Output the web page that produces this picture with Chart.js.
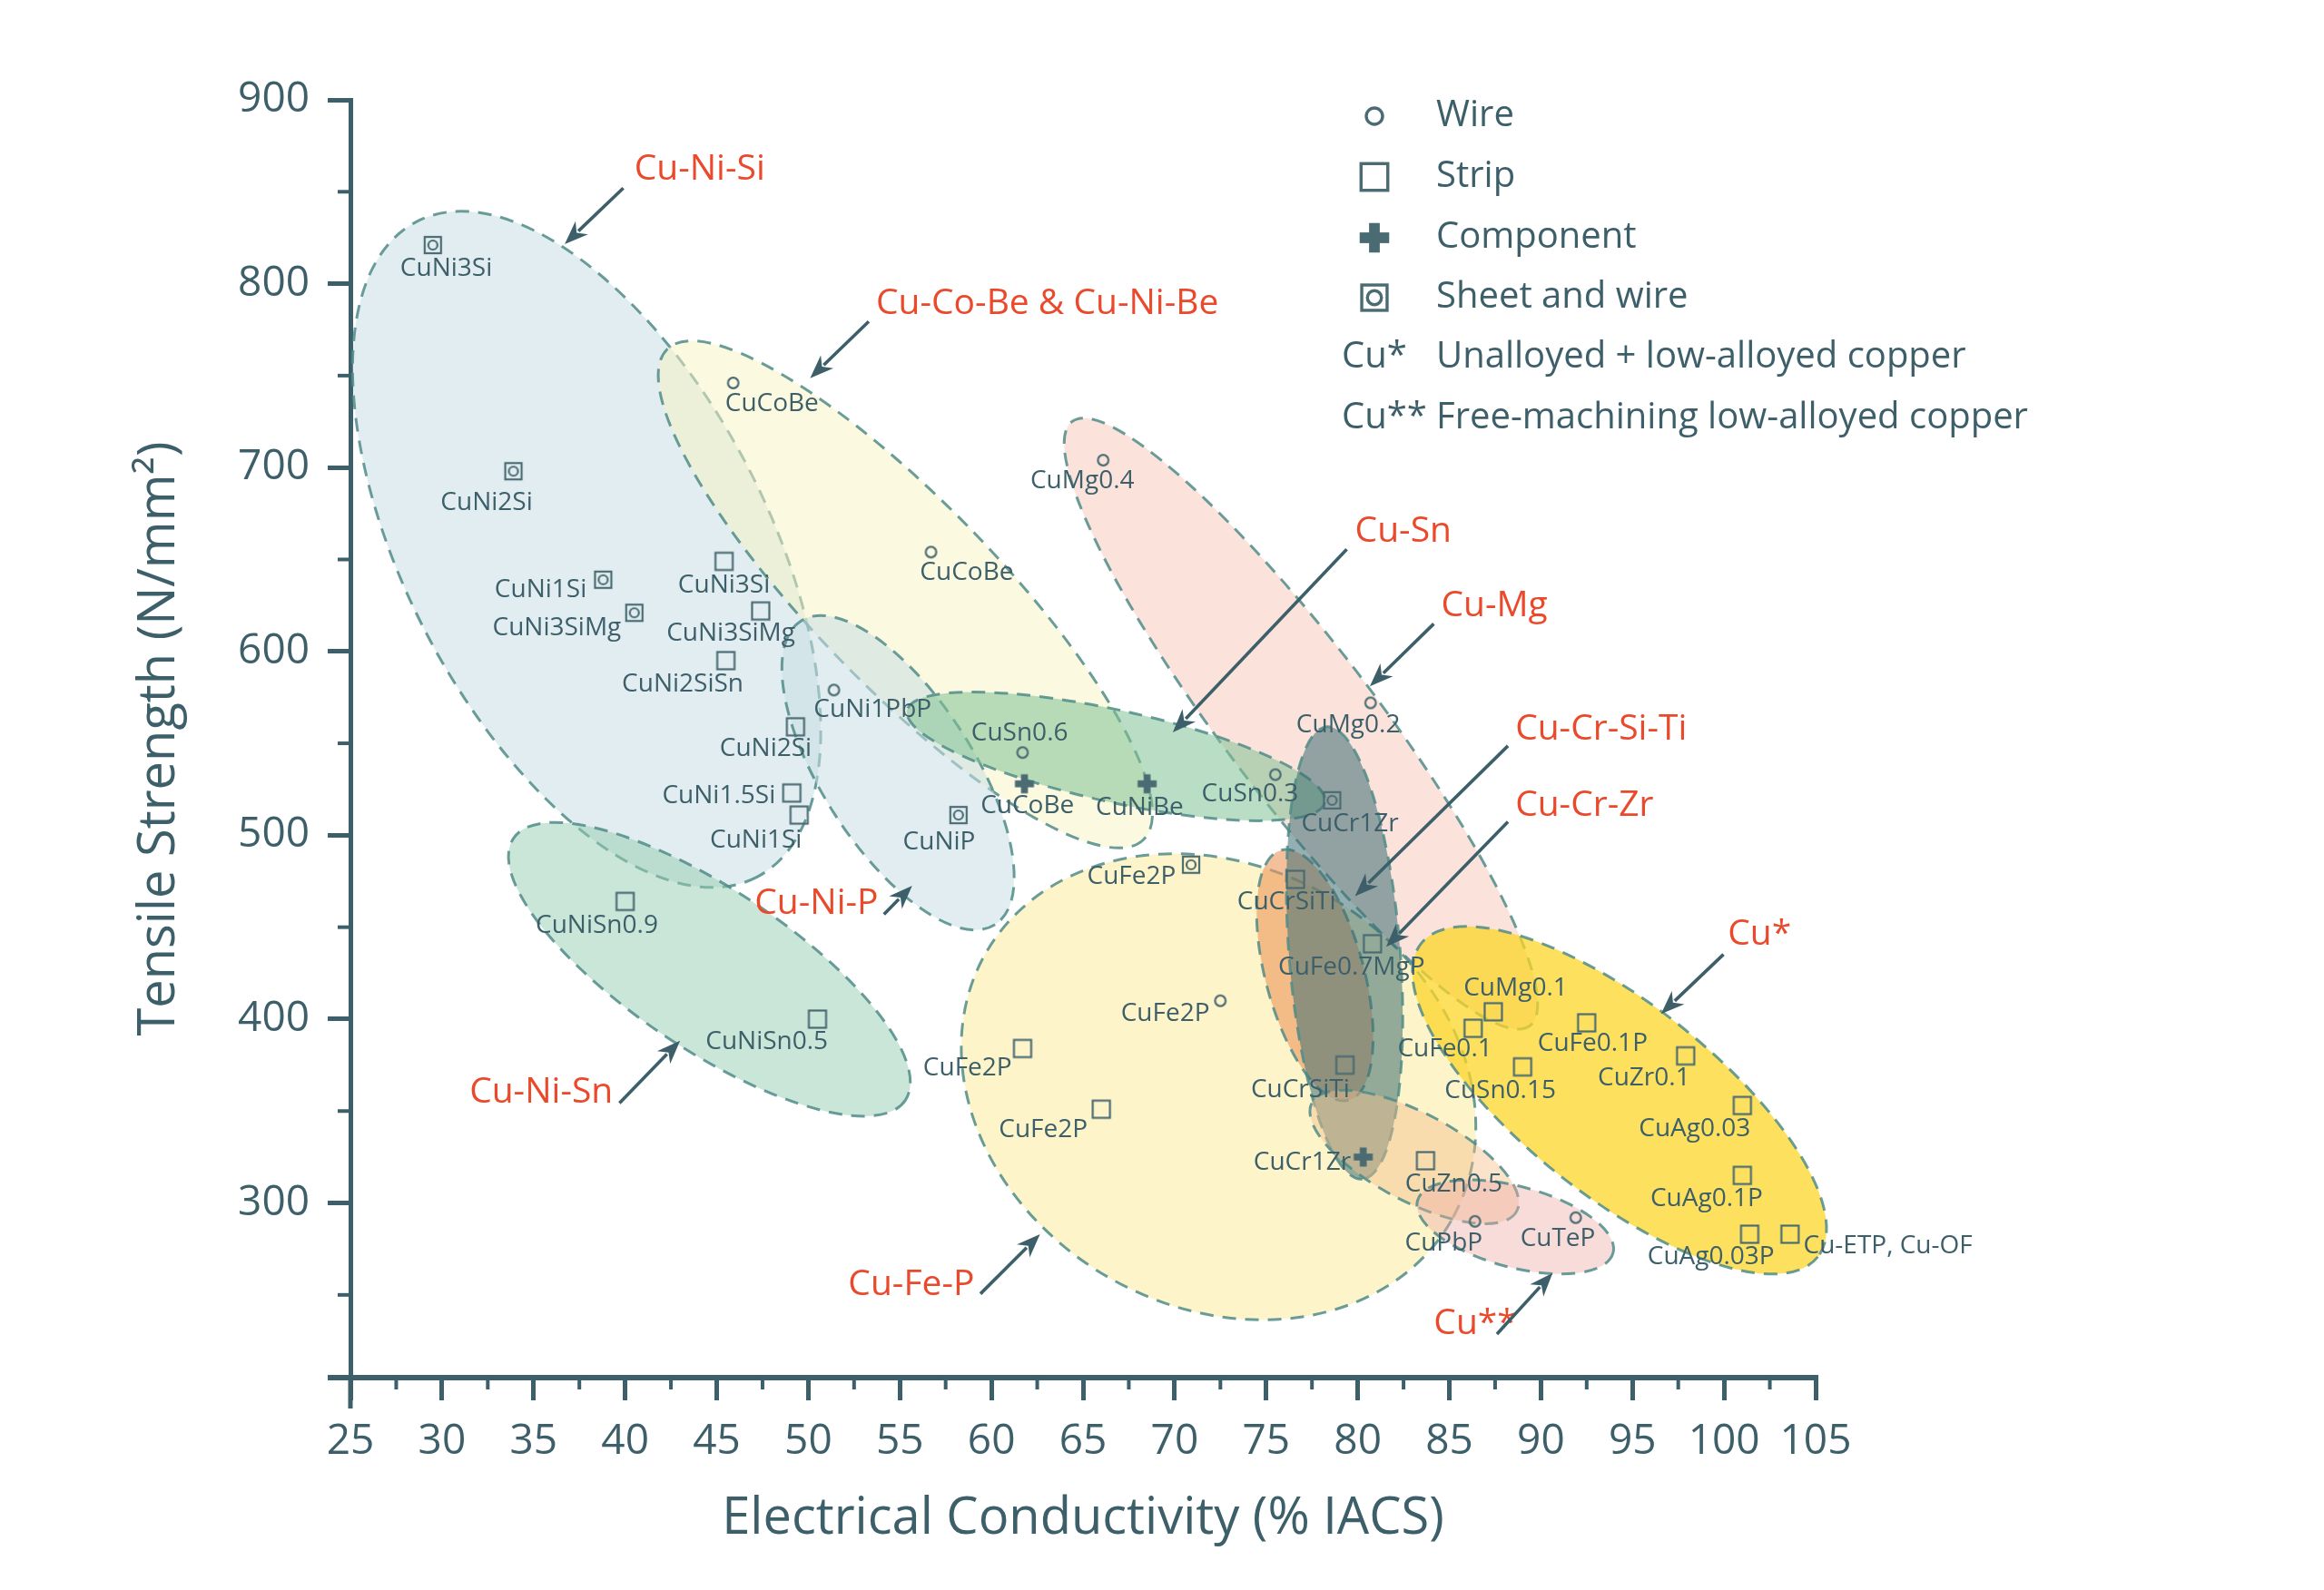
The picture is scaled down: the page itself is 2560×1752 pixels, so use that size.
<!DOCTYPE html>
<html>
<head>
<meta charset="utf-8">
<script src="https://cdn.jsdelivr.net/npm/chart.js@4.4.1/dist/chart.umd.min.js"></script>
<style>
  html, body { margin: 0; padding: 0; background: #fff; }
  canvas { display: block; }
</style>
</head>
<body>
<canvas id="chart" width="2560" height="1752"></canvas>
<script>
// alloy grades
const alloys = ["CuNi3Si", "CuCoBe", "CuNi2Si", "CuMg0.4", "CuCoBe", "CuNi3Si", "CuNi1Si", "CuNi3SiMg",
  "CuNi3SiMg", "CuNi2SiSn", "CuNi1PbP", "CuNi2Si", "CuSn0.6", "CuCoBe", "CuNiBe", "CuSn0.3", "CuCr1Zr",
  "CuNi1.5Si", "CuNi1Si", "CuNiP", "CuFe2P", "CuNiSn0.9", "CuCrSiTi", "CuFe0.7MgP", "CuMg0.2", "CuMg0.1",
  "CuFe0.1", "CuFe0.1P", "CuZr0.1", "CuSn0.15", "CuFe2P", "CuFe2P", "CuFe2P", "CuNiSn0.5", "CuCrSiTi",
  "CuAg0.03", "CuCr1Zr", "CuZn0.5", "CuAg0.1P", "CuPbP", "CuTeP", "CuAg0.03P", "Cu-ETP, Cu-OF"];
const conductivity = [29.5, 45.9, 33.9, 66.1, 56.7, 45.4, 38.8, 40.5, 47.4, 45.5, 51.4, 49.3, 61.7, 61.8,
  68.5, 75.5, 78.6, 49.1, 49.5, 58.2, 70.9, 40.0, 76.6, 80.8, 80.7, 87.4, 86.3, 92.5, 97.9, 89.0, 72.5,
  61.7, 66.0, 50.5, 79.3, 101.0, 80.3, 83.7, 101.0, 86.4, 91.9, 101.4, 103.6];
const strength = [821, 746, 698, 704, 654, 649, 639, 621, 622, 595, 579, 559, 545, 528, 528, 533, 519, 523,
  511, 511, 484, 464, 476, 441, 572, 404, 395, 398, 380, 374, 410, 384, 351, 400, 375, 353, 325, 323, 315,
  290, 292, 283, 283];
const forms = ["sheet", "wire", "sheet", "wire", "wire", "strip", "sheet", "sheet", "strip", "strip", "wire",
  "strip", "wire", "component", "component", "wire", "sheet", "strip", "strip", "sheet", "sheet", "strip",
  "strip", "strip", "wire", "strip", "strip", "strip", "strip", "strip", "wire", "strip", "strip", "strip",
  "strip", "strip", "component", "strip", "strip", "wire", "wire", "strip", "strip"];

const formNames = ["wire", "strip", "component", "sheet"];
const formLabels = ["Wire", "Strip", "Component", "Sheet and wire"];

// alloy families: centre and one end of the long axis (data units), width as share of length
const regionNames = ["Cu-Ni-Si", "Cu-Co-Be & Cu-Ni-Be", "Cu-Fe-P", "Cu-Mg", "Cu-Ni-P", "Cu-Ni-Sn", "Cu-Sn",
  "Cu-Cr-Si-Ti", "Cu-Cr-Zr", "Cu-Zn", "Cu**", "Cu*"];
const regionCenterX = [37.9, 55.3, 72.4, 76.9, 54.9, 44.6, 66.8, 77.66, 79.28, 83.09, 88.6, 94.29];
const regionCenterY = [655.5, 631, 363.2, 560.7, 534, 427.1, 542.9, 423.9, 436, 325, 287, 355.9];
const regionEndX = [47.2, 68.3, 85.1, 89.4, 60.2, 55.3, 78.2, 79.5, 80.25, 88.68, 93.94, 105.12];
const regionEndY = [477.3, 497.6, 290.3, 396.4, 451.4, 355.9, 517.8, 355.9, 313, 295.5, 272.8, 270.7];
const regionWidth = [0.49, 0.27, 0.82, 0.2, 0.42, 0.34, 0.215, 0.38, 0.245, 0.38, 0.4, 0.38];

const legendExtra = [["Cu*", "Unalloyed + low-alloyed copper"], ["Cu**", "Free-machining low-alloyed copper"]];

// ---- styling / layout ----
const AXIS = "#3d5f69";
const MARK = "#4b6b73";
const RED = "#ea4a2b";
const FONT = '"Open Sans", "DejaVu Sans", sans-serif';
const S = 1.64;

const regionFills = [
  "rgba(200,222,228,0.55)", "rgba(250,244,196,0.5)", "rgba(252,234,150,0.5)", "rgba(245,188,172,0.42)",
  "rgba(200,222,228,0.55)", "rgba(150,205,178,0.5)", "rgba(130,195,150,0.55)", "rgba(236,150,90,0.6)",
  "rgba(60,110,115,0.55)", "rgba(245,190,140,0.45)", "rgba(236,172,168,0.42)", "rgba(252,214,40,0.75)"];

// label offset from marker (reference px), left-aligned where marked
const labelOffsets = [[9, 16], [26, 14], [-18, 21], [-14, 14], [24, 14], [0, 16], [-42, 7], [-52, 10],
  [-20, 15], [-29, 16], [26, 13], [-20, 15], [-2, -13], [2, 15], [-5, 16], [-17, 13], [12, 16], [-49, 2],
  [-29, 17], [-13, 18], [-40, 8], [-19, 16], [-6, 15], [-14, 16], [-15, 15], [15, -16], [-19, 14], [4, 14],
  [-28, 15], [-15, 16], [-37, 9], [-37, 13], [-39, 14], [-34, 15], [-30, 17], [-32, 16], [-41, 4], [19, 16],
  [-24, 16], [-21, 15], [-12, 14], [-26, 15], [9, 8, "left"]];

// callouts: text anchor, arrow start, arrow tip (axis units)
const callouts = [
  { text: "Cu-Ni-Si", tx: 40.5, ty: 862, ax: 39.9, ay: 852, bx: 36.7, by: 821.5 },
  { text: "Cu-Co-Be & Cu-Ni-Be", tx: 53.7, ty: 789, ax: 53.3, ay: 779.4, bx: 50.1, by: 748.6 },
  { text: "Cu-Sn", tx: 79.85, ty: 665.2, ax: 79.4, ay: 655.5, bx: 69.9, by: 555.9 },
  { text: "Cu-Mg", tx: 84.55, ty: 624.7, ax: 84.15, ay: 615, bx: 80.66, by: 581 },
  { text: "Cu-Cr-Si-Ti", tx: 88.6, ty: 557.5, ax: 88.2, ay: 548.6, bx: 79.85, by: 466.8 },
  { text: "Cu-Cr-Zr", tx: 88.6, ty: 516, ax: 88.2, ay: 507.3, bx: 81.55, by: 439.3 },
  { text: "Cu*", tx: 100.2, ty: 445.7, ax: 99.97, ay: 435.2, bx: 96.56, by: 402.8 },
  { text: "Cu-Ni-P", tx: 47.07, ty: 462.75, ax: 54.13, ay: 457, bx: 55.67, by: 472.5 },
  { text: "Cu-Ni-Sn", tx: 31.5, ty: 360, ax: 39.69, ay: 354.3, bx: 43.0, by: 388.3 },
  { text: "Cu-Fe-P", tx: 52.18, ty: 255.5, ax: 59.4, ay: 250.6, bx: 62.65, by: 283 },
  { text: "Cu**", tx: 84.15, ty: 234.4, ax: 87.6, ay: 228.7, bx: 90.64, by: 261.9 }
];

function drawMarker(g, form, x, y, s) {
  g.save();
  g.strokeStyle = MARK;
  g.fillStyle = MARK;
  g.lineWidth = 2.2 * s;
  if (form === "wire") {
    g.beginPath(); g.arc(x, y, 5.8 * s, 0, Math.PI * 2); g.stroke();
  } else if (form === "strip") {
    g.strokeRect(x - 9.5 * s, y - 9.5 * s, 19 * s, 19 * s);
  } else if (form === "sheet") {
    g.strokeRect(x - 9 * s, y - 9 * s, 18 * s, 18 * s);
    g.beginPath(); g.arc(x, y, 5 * s, 0, Math.PI * 2); g.stroke();
  } else {
    const a = 10.5 * s, t = 3.8 * s;
    g.fillRect(x - a, y - t, 2 * a, 2 * t);
    g.fillRect(x - t, y - a, 2 * t, 2 * a);
  }
  g.restore();
}

function markerImage(form) {
  const c = document.createElement("canvas");
  c.width = 32; c.height = 32;
  drawMarker(c.getContext("2d"), form, 16, 16, 1);
  return c;
}

function arrow(g, x1, y1, x2, y2) {
  const ang = Math.atan2(y2 - y1, x2 - x1);
  const hl = 26, hw = 10;
  g.save();
  g.strokeStyle = AXIS; g.fillStyle = AXIS; g.lineWidth = 3.6;
  g.beginPath();
  g.moveTo(x1, y1);
  g.lineTo(x2 - Math.cos(ang) * hl * 0.8, y2 - Math.sin(ang) * hl * 0.8);
  g.stroke();
  g.beginPath();
  g.moveTo(x2, y2);
  g.lineTo(x2 - Math.cos(ang) * hl + Math.sin(ang) * hw, y2 - Math.sin(ang) * hl - Math.cos(ang) * hw);
  g.lineTo(x2 - Math.cos(ang) * hl * 0.7, y2 - Math.sin(ang) * hl * 0.7);
  g.lineTo(x2 - Math.cos(ang) * hl - Math.sin(ang) * hw, y2 - Math.sin(ang) * hl + Math.cos(ang) * hw);
  g.closePath();
  g.fill();
  g.restore();
}

const regionsPlugin = {
  id: "regions",
  beforeDatasetsDraw(chart) {
    const g = chart.ctx, xs = chart.scales.x, ys = chart.scales.y;
    regionNames.forEach((name, i) => {
      const cx = xs.getPixelForValue(regionCenterX[i]);
      const cy = ys.getPixelForValue(regionCenterY[i]);
      const ex = xs.getPixelForValue(regionEndX[i]);
      const ey = ys.getPixelForValue(regionEndY[i]);
      const a = Math.hypot(ex - cx, ey - cy);
      const b = a * regionWidth[i];
      g.save();
      g.beginPath();
      g.ellipse(cx, cy, a, b, Math.atan2(ey - cy, ex - cx), 0, Math.PI * 2);
      g.fillStyle = regionFills[i];
      g.fill();
      g.setLineDash([15, 10]);
      g.lineWidth = 3;
      g.strokeStyle = "rgba(80,140,136,0.85)";
      g.stroke();
      g.restore();
    });
  }
};

const labelsPlugin = {
  id: "alloyLabels",
  afterDatasetsDraw(chart) {
    const g = chart.ctx, xs = chart.scales.x, ys = chart.scales.y;
    g.save();
    g.font = "28px " + FONT;
    g.fillStyle = AXIS;
    g.textBaseline = "middle";
    alloys.forEach((name, i) => {
      const off = labelOffsets[i];
      g.textAlign = off[2] || "center";
      g.fillText(name, xs.getPixelForValue(conductivity[i]) + off[0] * S, ys.getPixelForValue(strength[i]) + off[1] * S);
    });
    g.restore();

    g.save();
    g.font = "39px " + FONT;
    g.fillStyle = RED;
    g.textBaseline = "middle";
    g.textAlign = "left";
    callouts.forEach(c => {
      g.fillText(c.text, xs.getPixelForValue(c.tx), ys.getPixelForValue(c.ty));
      arrow(g, xs.getPixelForValue(c.ax), ys.getPixelForValue(c.ay), xs.getPixelForValue(c.bx), ys.getPixelForValue(c.by));
    });
    g.restore();
  },
  afterDraw(chart) {
    const g = chart.ctx, a = chart.chartArea, xs = chart.scales.x, ys = chart.scales.y;
    g.save();
    g.strokeStyle = AXIS;
    // axis stubs past the corner
    g.lineWidth = 6;
    g.beginPath(); g.moveTo(a.left - 25, a.bottom); g.lineTo(a.left, a.bottom); g.stroke();
    g.lineWidth = 5;
    g.beginPath(); g.moveTo(a.left, a.bottom); g.lineTo(a.left, a.bottom + 34); g.stroke();
    // minor ticks
    g.lineWidth = 4;
    for (let v = 27.5; v < 105; v += 5) {
      const x = xs.getPixelForValue(v);
      g.beginPath(); g.moveTo(x, a.bottom); g.lineTo(x, a.bottom + 13); g.stroke();
    }
    for (let v = 250; v < 900; v += 100) {
      const y = ys.getPixelForValue(v);
      g.beginPath(); g.moveTo(a.left, y); g.lineTo(a.left - 14, y); g.stroke();
    }
    g.restore();

    // legend
    g.save();
    g.font = "40px " + FONT;
    g.fillStyle = AXIS;
    g.textBaseline = "middle";
    g.textAlign = "left";
    const rows = [128, 195, 262, 328, 394, 461];
    formNames.forEach((f, i) => {
      drawMarker(g, f, 1514, rows[i], 1.55);
      g.fillText(formLabels[i], 1582, rows[i]);
    });
    legendExtra.forEach((e, i) => {
      g.fillText(e[0], 1478, rows[4 + i]);
      g.fillText(e[1], 1582, rows[4 + i]);
    });
    g.restore();
  }
};

const datasets = formNames.map((f, k) => ({
  label: formLabels[k],
  data: alloys.map((n, i) => ({ x: conductivity[i], y: strength[i], f: forms[i] })).filter(p => p.f === f),
  pointStyle: markerImage(f),
  pointRadius: 10,
  pointHoverRadius: 10
}));

const tickFont = { family: FONT, size: 46 };
const titleFont = { family: FONT, size: 56 };

new Chart(document.getElementById("chart"), {
  type: "scatter",
  data: { datasets },
  options: {
    responsive: false,
    devicePixelRatio: 1,
    animation: false,
    layout: { padding: { top: 110, right: 560, left: 0, bottom: 0 } },
    plugins: { legend: { display: false }, tooltip: { enabled: false } },
    scales: {
      x: {
        type: "linear", min: 25, max: 105,
        afterFit(s) { s.height = 234; },
        border: { display: true, color: AXIS, width: 6 },
        grid: {
          drawOnChartArea: false, drawTicks: true, tickLength: 25, lineWidth: 5,
          color: c => (c.tick && Math.abs(c.tick.value % 5) < 1e-6 ? AXIS : "rgba(0,0,0,0)")
        },
        ticks: {
          stepSize: 2.5, autoSkip: false, maxRotation: 0, padding: 18, color: AXIS, font: tickFont,
          callback: v => (Math.abs(v % 5) < 1e-6 ? v : "")
        },
        title: { display: true, text: "Electrical Conductivity (% IACS)", color: AXIS, font: titleFont, padding: { top: 0, bottom: 44 } }
      },
      y: {
        type: "linear", min: 205, max: 900,
        afterFit(s) { s.width = 386; },
        border: { display: true, color: AXIS, width: 5 },
        grid: {
          drawOnChartArea: false, drawTicks: true, tickLength: 25, lineWidth: 5,
          color: c => (c.tick && c.tick.value % 100 === 0 ? AXIS : "rgba(0,0,0,0)")
        },
        ticks: {
          stepSize: 50, autoSkip: false, padding: 20, color: AXIS, font: tickFont,
          callback: v => (v % 100 === 0 ? v : "")
        },
        title: { display: true, text: "Tensile Strength (N/mm²)", color: AXIS, font: titleFont, padding: { top: 142, bottom: 0 } }
      }
    }
  },
  plugins: [regionsPlugin, labelsPlugin]
});
</script>
</body>
</html>
